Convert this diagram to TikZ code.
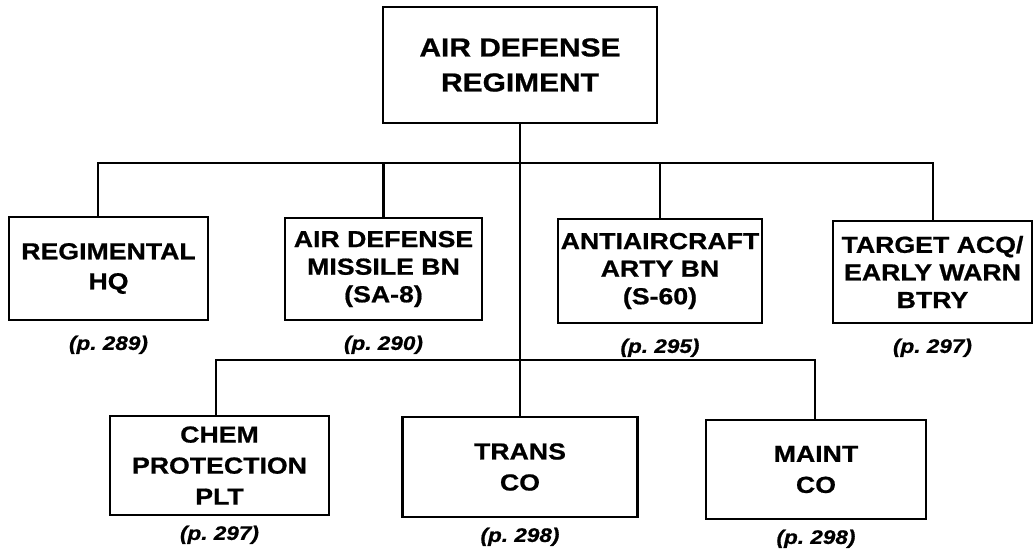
\documentclass[tikz,border=0pt]{standalone}
\usepackage{fontspec}
\setmainfont{Liberation Sans}[FakeStretch=1.15,
  BoldFeatures={FakeBold=0.8},BoldItalicFeatures={FakeBold=0.8}]
\usepackage{tikz}
\usetikzlibrary{positioning}

\begin{document}
\begin{tikzpicture}[x=0.5pt,y=-0.5pt,
    unitbox/.style={draw,line width=1.3pt,align=center,inner sep=0pt,
      font=\fontsize{11.6}{13.8}\selectfont\bfseries},
    pagelbl/.style={inner sep=0pt,font=\fontsize{9.8}{12}\selectfont\bfseries\itshape},
    link/.style={line width=1.3pt}]
  \useasboundingbox (0,0) rectangle (1034,558);
  % regiment
  \node[unitbox,minimum width=137pt,minimum height=58pt,
        font=\fontsize{13}{17.5}\selectfont\bfseries] (adr) at (520,65) {AIR DEFENSE\\REGIMENT};
  % battalions and batteries
  \node[unitbox,minimum width=99.5pt,minimum height=51.5pt,
        font=\fontsize{11.6}{15}\selectfont\bfseries] (hq) at (108.5,268.5) {REGIMENTAL\\HQ};
  \node[unitbox,minimum width=98.5pt,minimum height=51pt] (msl) at (383.5,269) {AIR DEFENSE\\MISSILE BN\\(SA-8)};
  \node[unitbox,minimum width=102pt,minimum height=52pt] (aaa) at (660,271) {ANTIAIRCRAFT\\ARTY BN\\(S-60)};
  \node[unitbox,minimum width=99.5pt,minimum height=51pt] (tgt) at (932.5,272) {TARGET ACQ/\\EARLY WARN\\BTRY};
  % support units
  \node[unitbox,minimum width=109.5pt,minimum height=49.5pt,
        font=\fontsize{11.6}{15.5}\selectfont\bfseries] (chem) at (219.5,465.5) {CHEM\\PROTECTION\\PLT};
  \node[unitbox,minimum width=117.5pt,minimum height=50pt,
        font=\fontsize{11.6}{15.5}\selectfont\bfseries] (trans) at (520,467) {TRANS\\CO};
  \node[unitbox,minimum width=110pt,minimum height=49.5pt,
        font=\fontsize{11.6}{15.5}\selectfont\bfseries] (maint) at (816,469.5) {MAINT\\CO};
  % page references
  \foreach \n/\p in {hq/289,msl/290,aaa/295,tgt/297}
    \node[pagelbl,below=7pt of \n] (pg\n) {(p.~\p)};
  \foreach \n/\p in {chem/297,trans/298,maint/298}
    \node[pagelbl,below=4.5pt of \n] (pg\n) {(p.~\p)};
  % connectors
  \coordinate (busL) at (98,163);
  \coordinate (busR) at (933,163);
  \draw[link] (busL |- hq.north) -- (busL) -- (busR) -- (busR |- tgt.north);
  \foreach \n in {msl,aaa}
    \draw[link] (\n.north) -- (\n.north |- busL);
  \draw[link] (adr.south) -- (trans.north);
  \coordinate (subL) at (216,360);
  \coordinate (subR) at (815,360);
  \draw[link] (subL |- chem.north) -- (subL) -- (subR) -- (subR |- maint.north);
\end{tikzpicture}
\end{document}
